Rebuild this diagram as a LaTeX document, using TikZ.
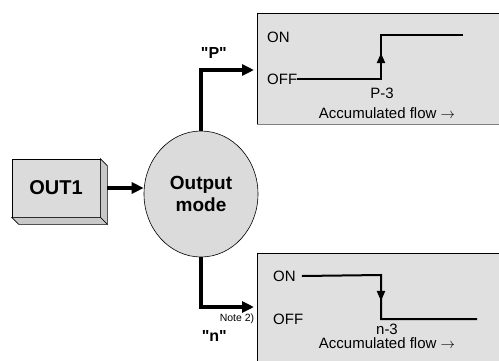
\documentclass[tikz,border=0pt]{standalone}
\usepackage{fontspec}
\setmainfont{Liberation Sans}[Ligatures=TeXOff]
\usetikzlibrary{arrows.meta,positioning,calc,shapes.geometric}
\definecolor{boxgray}{HTML}{DBDBDB}
\definecolor{sidegray}{HTML}{C8C8C8}
\definecolor{panelgray}{HTML}{E0E0E0}

\begin{document}
\begin{tikzpicture}[x=1pt, y=-1pt, >=Latex,
  conn/.style={line width=4pt, -{Triangle[length=12pt,width=11pt]}},
  curve/.style={line width=2pt},
  tick/.style={line width=2pt, -{Triangle[length=10pt,width=8pt]}},
  panel/.style={draw, line width=0.7pt, fill=panelgray, anchor=north west, minimum width=250pt, inner sep=0pt},
  lbl/.style={font=\fontsize{15}{15}\selectfont, inner sep=0pt},
  tag/.style={font=\bfseries\fontsize{16}{16}\selectfont, inner sep=0pt, anchor=east}]
  \useasboundingbox (0,0) rectangle (499,360);
  \clip (0,0) rectangle (499,360);

  \node[panel, minimum height=111pt] (panelP) at (257,13) {};
  \node[panel, minimum height=120pt] (paneln) at (257,253) {};
  \draw[gray, line width=1.5pt] (panelP.south west) -- (panelP.south east);

  \node[draw, line width=0.6pt, fill=boxgray, minimum width=88pt, minimum height=58pt,
        font=\bfseries\fontsize{20}{20}\selectfont] (out1) at (56,188) {OUT1};
  \draw[line width=0.6pt, fill=sidegray] (out1.north east) -- ++(7,7) -- ($(out1.south east)+(7,7)$) -- (out1.south east) -- cycle;
  \draw[line width=0.6pt, fill=sidegray] (out1.south west) -- (out1.south east) -- ++(7,7) -- ($(out1.south west)+(7,7)$) -- cycle;

  \node[ellipse, draw, line width=0.6pt, fill=boxgray, minimum width=114pt, minimum height=126pt, inner sep=0pt,
        align=center, font=\bfseries\fontsize{19}{22}\selectfont] (mode) at (201,194) {Output\\mode};

  \coordinate (inP) at (254,70);
  \coordinate (inN) at (254,307);
  \draw[conn] ([xshift=7pt]out1.east) -- (out1.east -| mode.west);
  \draw[conn] (mode.north) |- (inP);
  \draw[conn] (mode.south) |- (inN);
  \node[tag] (tagP) at (227,53) {"P"};
  \node[tag] (tagN) at (227,336) {"n"};
  \node[font=\fontsize{10.5}{10.5}\selectfont, inner sep=0pt] (note) at (237,319) {Note 2)};

  % P switching
  \node[lbl, anchor=west] (onP) at (267,37) {ON};
  \node[lbl, anchor=west] (offP) at (267,79) {OFF};
  \coordinate (pA) at (381,79);
  \coordinate (pB) at (381,35);
  \coordinate (pE) at (463,35);
  \draw[curve] (offP.east) -- (pA) -- (pB) -- (pE);
  \draw[tick] (pA) -- ($(pA)!0.59!(pB)$);
  \node[lbl] (setP) at (382,93) {P-3};
  \node[lbl] (flowP) at (387,113) {Accumulated flow $\rightarrow$};

  % n switching
  \node[lbl, anchor=west] (onN) at (273,276) {ON};
  \node[lbl, anchor=west] (offN) at (273,319) {OFF};
  \coordinate (nA) at (381,275);
  \coordinate (nB) at (381,319);
  \coordinate (nE) at (477,319);
  \draw[curve] ([xshift=6pt]onN.east) -- (nA) -- (nB) -- (nE);
  \draw[tick] (nA) -- ($(nA)!0.59!(nB)$);
  \node[lbl] (setN) at (387,329) {n-3};
  \node[lbl] (flowN) at (387,343) {Accumulated flow $\rightarrow$};
\end{tikzpicture}
\end{document}
